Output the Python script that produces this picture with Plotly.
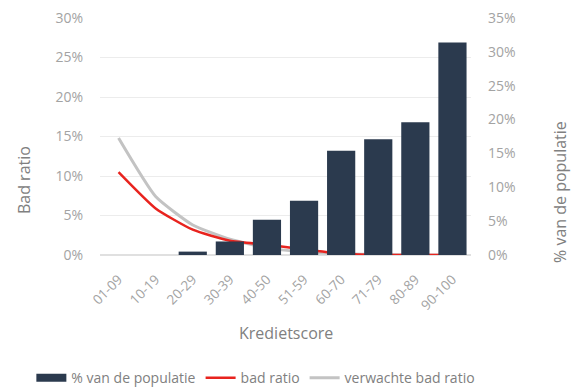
import plotly.graph_objects as go

categories = ["01-09", "10-19", "20-29", "30-39", "40-50", "51-59", "60-70", "71-79", "80-89", "90-100"]
populatie = [0.0, 0.0, 0.5, 2.0, 5.2, 8.0, 15.4, 17.1, 19.6, 31.4]
bad_ratio = [10.5, 5.9, 3.2, 1.8, 1.3, 0.7, 0.2, 0.0, 0.0, 0.0]
verwachte_bad_ratio = [14.8, 7.4, 3.8, 2.0, 0.9, 0.4, 0.15, 0.05, 0.0, 0.0]

bar_col = "#2b3a4e"
red_col = "#e8231e"
gray_col = "#c3c3c3"
tick_col = "#a3a3a3"
title_col = "#808080"
font_family = "Open Sans"

fig = go.Figure()
fig.add_trace(go.Bar(
    x=categories, y=populatie, name="% van de populatie",
    marker=dict(color=bar_col, line=dict(width=0)), yaxis="y2", showlegend=False,
))
# legend entry for the bars (wide rectangle like the original legend key)
fig.add_trace(go.Scatter(
    x=[None], y=[None], name="% van de populatie", mode="lines",
    line=dict(color=bar_col, width=8), yaxis="y2", legendrank=1,
))
fig.add_trace(go.Scatter(
    x=categories, y=verwachte_bad_ratio, name="verwachte bad ratio",
    mode="lines", line=dict(color=gray_col, width=3, shape="spline", smoothing=0.5),
    yaxis="y", legendrank=3,
))
fig.add_trace(go.Scatter(
    x=categories, y=bad_ratio, name="bad ratio",
    mode="lines", line=dict(color=red_col, width=2.5, shape="spline", smoothing=0.5),
    yaxis="y", legendrank=2,
))

fig.update_layout(
    width=576, height=388,
    margin=dict(l=100, r=105, t=18, b=133, autoexpand=False),
    paper_bgcolor="white", plot_bgcolor="white",
    font=dict(family=font_family, color=tick_col, size=12),
    bargap=0.24,
    xaxis=dict(
        type="category", automargin=False,
        tickangle=-45, tickfont=dict(size=13.5, color=tick_col), ticklabelstandoff=13,
        showgrid=False, showline=False, ticks="",
    ),
    yaxis=dict(
        range=[0, 30], dtick=5, ticksuffix="%", automargin=False,
        tickfont=dict(size=14, color=tick_col), ticklabelstandoff=16,
        showgrid=True, gridcolor="#ececec", gridwidth=1, zeroline=True, zerolinecolor="#e0e0e0",
        showline=False, ticks="",
    ),
    yaxis2=dict(
        range=[0, 35], dtick=5, ticksuffix="%", overlaying="y", side="right", automargin=False,
        tickfont=dict(size=14, color=tick_col), ticklabelstandoff=16,
        showgrid=False, zeroline=False, showline=False, ticks="",
    ),
    legend=dict(
        orientation="h",
        x=-0.185, xanchor="left", y=-0.52, yanchor="middle",
        font=dict(size=14, color="#808080"),
        tracegroupgap=0,
    ),
    annotations=[
        dict(text="Bad ratio", xref="paper", yref="paper", x=-0.205, y=0.316,
             xanchor="center", yanchor="middle",
             textangle=-90, showarrow=False, font=dict(size=16, color=title_col)),
        dict(text="% van de populatie", xref="paper", yref="paper", x=1.24, y=0.266,
             xanchor="center", yanchor="middle",
             textangle=-90, showarrow=False, font=dict(size=16, color=title_col)),
        dict(text="Kredietscore", xref="paper", yref="paper", x=0.5, y=-0.329,
             xanchor="center", yanchor="middle",
             showarrow=False, font=dict(size=16, color=title_col)),
    ],
)

fig.write_html("out.html")
